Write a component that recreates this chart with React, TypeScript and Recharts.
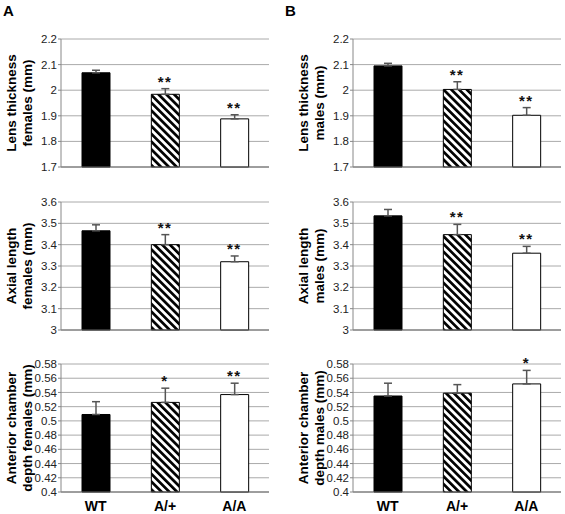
import React from "react";
import {
  Bar,
  BarChart,
  CartesianGrid,
  Cell,
  ErrorBar,
  ReferenceDot,
  XAxis,
  YAxis,
} from "recharts";

const groups = ["WT", "A/+", "A/A"];

// lens thickness (mm)
const lensFemales = [2.068, 1.984, 1.888];
const lensFemalesErr = [0.01, 0.022, 0.016];
const lensFemalesSig = ["", "**", "**"];
const lensMales = [2.095, 2.003, 1.902];
const lensMalesErr = [0.01, 0.03, 0.03];
const lensMalesSig = ["", "**", "**"];
const lensTicks = [1.7, 1.8, 1.9, 2, 2.1, 2.2];

// axial length (mm)
const axialFemales = [3.465, 3.4, 3.32];
const axialFemalesErr = [0.028, 0.047, 0.027];
const axialFemalesSig = ["", "**", "**"];
const axialMales = [3.535, 3.447, 3.36];
const axialMalesErr = [0.03, 0.048, 0.032];
const axialMalesSig = ["", "**", "**"];
const axialTicks = [3, 3.1, 3.2, 3.3, 3.4, 3.5, 3.6];

// anterior chamber depth (mm)
const acdFemales = [0.509, 0.526, 0.537];
const acdFemalesErr = [0.018, 0.02, 0.016];
const acdFemalesSig = ["", "*", "**"];
const acdMales = [0.535, 0.539, 0.552];
const acdMalesErr = [0.018, 0.012, 0.019];
const acdMalesSig = ["", "", "*"];
const acdTicks = [0.4, 0.42, 0.44, 0.46, 0.48, 0.5, 0.52, 0.54, 0.56, 0.58];

const FONT = "'Liberation Sans', Arial, sans-serif";
const PLOT_H = 128;

type PanelProps = {
  id: string;
  values: number[];
  errors: number[];
  sig: string[];
  ticks: number[];
  label: [string, string];
  left: number;
  top: number;
  width: number;
  marginTop: number;
  marginLeft: number;
  marginRight: number;
  showX: boolean;
};

function fmt(v: number) {
  return String(Number(v.toFixed(2)));
}

function Panel(p: PanelProps) {
  const data = groups.map((g, i) => ({
    g,
    v: p.values[i],
    e: [0, p.errors[i]],
    top: p.values[i] + p.errors[i],
    sig: p.sig[i],
  }));
  const fills = ["#000", `url(#hatch-${p.id})`, "#fff"];
  const xAxisH = p.showX ? 22 : 20;
  const height = p.marginTop + PLOT_H + xAxisH;

  const yLabel = (props: any) => {
    const vb = props.viewBox;
    const right = vb.x + vb.width;
    const cy = vb.y + vb.height / 2;
    return (
      <g>
        {[p.label[0], p.label[1]].map((t, i) => {
          const cx = right - (i === 0 ? 50 : 34);
          return (
            <text
              key={i}
              x={cx}
              y={cy}
              transform={`rotate(-90, ${cx}, ${cy})`}
              textAnchor="middle"
              dominantBaseline="central"
              fontFamily={FONT}
              fontWeight="bold"
              fontSize={13.5}
              fill="#000"
            >
              {t}
            </text>
          );
        })}
      </g>
    );
  };

  return (
    <div style={{ position: "absolute", left: p.left, top: p.top }}>
      <BarChart
        width={p.width}
        height={height}
        data={data}
        margin={{ top: p.marginTop, right: p.marginRight, left: p.marginLeft, bottom: 0 }}
      >
        <defs>
          <pattern
            id={`hatch-${p.id}`}
            width={5.5}
            height={5.5}
            patternUnits="userSpaceOnUse"
            patternTransform="rotate(-45)"
          >
            <rect width={5.5} height={5.5} fill="#fff" />
            <rect width={2.7} height={5.5} fill="#000" />
          </pattern>
        </defs>
        <CartesianGrid vertical={false} stroke="#aaa" />
        <XAxis
          dataKey="g"
          height={xAxisH}
          axisLine={{ stroke: "#666" }}
          tickLine={false}
          tickSize={6}
          tickMargin={3}
          tick={
            p.showX
              ? { fontFamily: FONT, fontWeight: "bold", fontSize: 14, fill: "#000" }
              : false
          }
        />
        <YAxis
          domain={[p.ticks[0], p.ticks[p.ticks.length - 1]]}
          ticks={p.ticks}
          interval={0}
          width={25}
          tickFormatter={fmt}
          axisLine={{ stroke: "#888" }}
          tickLine={{ stroke: "#888" }}
          tickSize={3}
          tickMargin={1}
          tick={{ fontFamily: FONT, fontSize: 11.5, fill: "#222" }}
          label={yLabel}
        />
        <Bar dataKey="v" barSize={28} stroke="#000" strokeWidth={1} isAnimationActive={false}>
          {data.map((d, i) => (
            <Cell key={d.g} fill={fills[i]} />
          ))}
          <ErrorBar dataKey="e" width={4} stroke="#555" strokeWidth={1.5} direction="y" />
        </Bar>
        {data
          .filter((d) => d.sig)
          .map((d) => (
            <ReferenceDot
              key={d.g}
              x={d.g}
              y={d.top}
              r={0}
              fill="none"
              stroke="none"
              label={{
                value: d.sig,
                position: "top",
                offset: 2,
                fontFamily: FONT,
                fontWeight: "bold",
                fontSize: 15,
                letterSpacing: 1.5,
                fill: "#111",
              }}
            />
          ))}
      </BarChart>
    </div>
  );
}

const letterStyle: React.CSSProperties = {
  position: "absolute",
  fontFamily: FONT,
  fontWeight: "bold",
  fontSize: 15,
  lineHeight: "15px",
};

export default function App() {
  const colA = { left: 0, width: 282, marginLeft: 36, marginRight: 13 };
  const colB = { left: 282, width: 283, marginLeft: 46, marginRight: 4 };
  return (
    <div
      style={{
        position: "absolute",
        left: 0,
        top: 0,
        width: 565,
        height: 514,
        background: "#fff",
        overflow: "hidden",
      }}
    >
      <div style={{ ...letterStyle, left: 3, top: 3 }}>A</div>
      <div style={{ ...letterStyle, left: 285, top: 3 }}>B</div>

      <Panel id="lf" {...colA} top={0} marginTop={39} values={lensFemales} errors={lensFemalesErr} sig={lensFemalesSig} ticks={lensTicks} label={["Lens thickness", "females (mm)"]} showX={false} />
      <Panel id="lm" {...colB} top={0} marginTop={39} values={lensMales} errors={lensMalesErr} sig={lensMalesSig} ticks={lensTicks} label={["Lens thickness", "males (mm)"]} showX={false} />

      <Panel id="af" {...colA} top={170} marginTop={32} values={axialFemales} errors={axialFemalesErr} sig={axialFemalesSig} ticks={axialTicks} label={["Axial length", "females (mm)"]} showX={false} />
      <Panel id="am" {...colB} top={170} marginTop={32} values={axialMales} errors={axialMalesErr} sig={axialMalesSig} ticks={axialTicks} label={["Axial length", "males (mm)"]} showX={false} />

      <Panel id="cf" {...colA} top={340} marginTop={24} values={acdFemales} errors={acdFemalesErr} sig={acdFemalesSig} ticks={acdTicks} label={["Anterior chamber", "depth females (mm)"]} showX={true} />
      <Panel id="cm" {...colB} top={340} marginTop={24} values={acdMales} errors={acdMalesErr} sig={acdMalesSig} ticks={acdTicks} label={["Anterior chamber", "depth males (mm)"]} showX={true} />
    </div>
  );
}
